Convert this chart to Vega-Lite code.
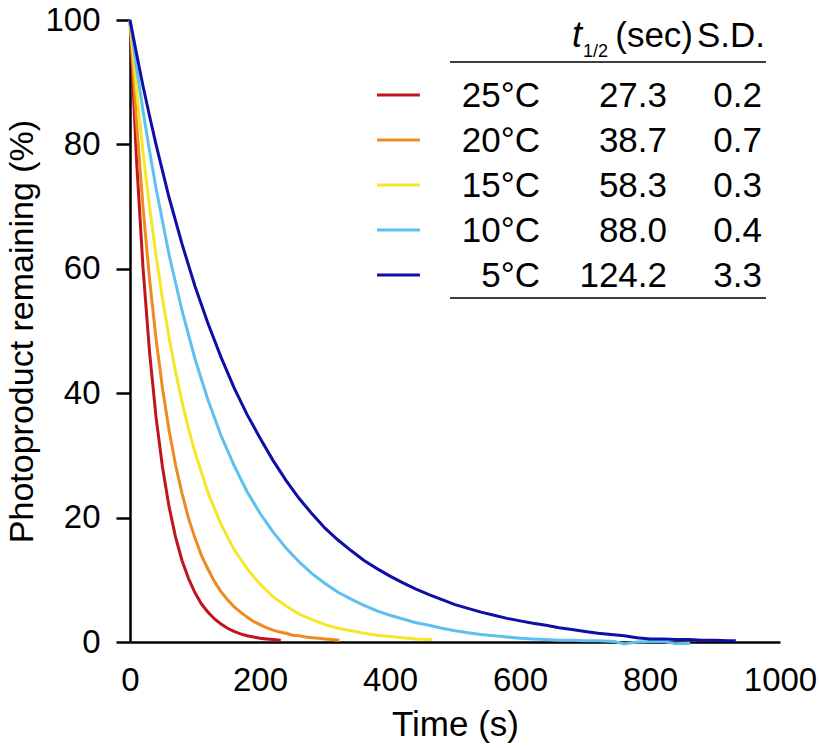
{
  "$schema": "https://vega.github.io/schema/vega-lite/v6.json",
  "width": 650,
  "height": 622,
  "autosize": {"type": "none"},
  "padding": {"left": 130, "top": 20, "right": 40, "bottom": 106},
  "background": "white",
  "config": {
    "view": {"stroke": null},
    "font": "Liberation Sans",
    "text": {"font": "Liberation Sans", "baseline": "alphabetic"},
    "axis": {"labelFont": "Liberation Sans", "titleFont": "Liberation Sans", "grid": false, "domainColor": "black", "tickColor": "black", "labelColor": "black", "titleColor": "black", "titleFontWeight": "normal", "zindex": 1}
  },
  "datasets": {
    "table": [
      {"temp": "25°C", "row": 1, "t_half": "27.3", "sd": "0.2"},
      {"temp": "20°C", "row": 2, "t_half": "38.7", "sd": "0.7"},
      {"temp": "15°C", "row": 3, "t_half": "58.3", "sd": "0.3"},
      {"temp": "10°C", "row": 4, "t_half": "88.0", "sd": "0.4"},
      {"temp": "5°C", "row": 5, "t_half": "124.2", "sd": "3.3"}
    ],
    "curves": [
      {"temp":"25°C","time":0,"remaining":100},{"temp":"25°C","time":10,"remaining":77.6},{"temp":"25°C","time":20,"remaining":60.2},{"temp":"25°C","time":30,"remaining":46.7},{"temp":"25°C","time":40,"remaining":36.2},{"temp":"25°C","time":50,"remaining":28.1},{"temp":"25°C","time":60,"remaining":21.8},{"temp":"25°C","time":70,"remaining":16.9},{"temp":"25°C","time":80,"remaining":13.1},{"temp":"25°C","time":90,"remaining":10.2},{"temp":"25°C","time":100,"remaining":7.9},{"temp":"25°C","time":110,"remaining":6.1},{"temp":"25°C","time":120,"remaining":4.8},{"temp":"25°C","time":130,"remaining":3.7},{"temp":"25°C","time":140,"remaining":2.9},{"temp":"25°C","time":150,"remaining":2.2},{"temp":"25°C","time":160,"remaining":1.7},{"temp":"25°C","time":170,"remaining":1.3},{"temp":"25°C","time":180,"remaining":1.0},{"temp":"25°C","time":190,"remaining":0.8},{"temp":"25°C","time":200,"remaining":0.6},{"temp":"25°C","time":210,"remaining":0.5},{"temp":"25°C","time":220,"remaining":0.4},{"temp":"25°C","time":232,"remaining":0.3},
      {"temp":"20°C","time":0,"remaining":100},{"temp":"20°C","time":10,"remaining":83.6},{"temp":"20°C","time":20,"remaining":69.9},{"temp":"20°C","time":30,"remaining":58.4},{"temp":"20°C","time":40,"remaining":48.8},{"temp":"20°C","time":50,"remaining":40.8},{"temp":"20°C","time":60,"remaining":34.1},{"temp":"20°C","time":70,"remaining":28.5},{"temp":"20°C","time":80,"remaining":23.9},{"temp":"20°C","time":90,"remaining":19.9},{"temp":"20°C","time":100,"remaining":16.7},{"temp":"20°C","time":110,"remaining":13.9},{"temp":"20°C","time":120,"remaining":11.7},{"temp":"20°C","time":130,"remaining":9.7},{"temp":"20°C","time":140,"remaining":8.1},{"temp":"20°C","time":150,"remaining":6.8},{"temp":"20°C","time":160,"remaining":5.7},{"temp":"20°C","time":170,"remaining":4.8},{"temp":"20°C","time":180,"remaining":4.0},{"temp":"20°C","time":190,"remaining":3.3},{"temp":"20°C","time":200,"remaining":2.8},{"temp":"20°C","time":210,"remaining":2.3},{"temp":"20°C","time":220,"remaining":1.9},{"temp":"20°C","time":230,"remaining":1.6},{"temp":"20°C","time":240,"remaining":1.4},{"temp":"20°C","time":250,"remaining":1.1},{"temp":"20°C","time":260,"remaining":1.0},{"temp":"20°C","time":270,"remaining":0.8},{"temp":"20°C","time":280,"remaining":0.7},{"temp":"20°C","time":290,"remaining":0.6},{"temp":"20°C","time":300,"remaining":0.5},{"temp":"20°C","time":310,"remaining":0.4},{"temp":"20°C","time":322,"remaining":0.3},
      {"temp":"15°C","time":0,"remaining":100},{"temp":"15°C","time":10,"remaining":88.8},{"temp":"15°C","time":20,"remaining":78.8},{"temp":"15°C","time":30,"remaining":70.0},{"temp":"15°C","time":40,"remaining":62.2},{"temp":"15°C","time":50,"remaining":55.2},{"temp":"15°C","time":60,"remaining":49.0},{"temp":"15°C","time":70,"remaining":43.5},{"temp":"15°C","time":80,"remaining":38.6},{"temp":"15°C","time":90,"remaining":34.3},{"temp":"15°C","time":100,"remaining":30.5},{"temp":"15°C","time":120,"remaining":24.0},{"temp":"15°C","time":140,"remaining":18.9},{"temp":"15°C","time":160,"remaining":14.9},{"temp":"15°C","time":180,"remaining":11.8},{"temp":"15°C","time":200,"remaining":9.3},{"temp":"15°C","time":220,"remaining":7.3},{"temp":"15°C","time":240,"remaining":5.8},{"temp":"15°C","time":260,"remaining":4.5},{"temp":"15°C","time":280,"remaining":3.6},{"temp":"15°C","time":300,"remaining":2.8},{"temp":"15°C","time":320,"remaining":2.2},{"temp":"15°C","time":340,"remaining":1.8},{"temp":"15°C","time":360,"remaining":1.4},{"temp":"15°C","time":380,"remaining":1.1},{"temp":"15°C","time":400,"remaining":0.9},{"temp":"15°C","time":420,"remaining":0.7},{"temp":"15°C","time":440,"remaining":0.5},{"temp":"15°C","time":465,"remaining":0.4},
      {"temp":"10°C","time":0,"remaining":100},{"temp":"10°C","time":10,"remaining":92.4},{"temp":"10°C","time":20,"remaining":85.4},{"temp":"10°C","time":30,"remaining":79.0},{"temp":"10°C","time":40,"remaining":73.0},{"temp":"10°C","time":60,"remaining":62.3},{"temp":"10°C","time":80,"remaining":53.3},{"temp":"10°C","time":100,"remaining":45.5},{"temp":"10°C","time":120,"remaining":38.9},{"temp":"10°C","time":140,"remaining":33.2},{"temp":"10°C","time":160,"remaining":28.4},{"temp":"10°C","time":180,"remaining":24.2},{"temp":"10°C","time":200,"remaining":20.7},{"temp":"10°C","time":220,"remaining":17.7},{"temp":"10°C","time":240,"remaining":15.1},{"temp":"10°C","time":260,"remaining":12.9},{"temp":"10°C","time":280,"remaining":11.0},{"temp":"10°C","time":300,"remaining":9.4},{"temp":"10°C","time":320,"remaining":8.0},{"temp":"10°C","time":340,"remaining":6.9},{"temp":"10°C","time":360,"remaining":5.9},{"temp":"10°C","time":380,"remaining":5.0},{"temp":"10°C","time":400,"remaining":4.3},{"temp":"10°C","time":420,"remaining":3.7},{"temp":"10°C","time":440,"remaining":3.1},{"temp":"10°C","time":460,"remaining":2.7},{"temp":"10°C","time":480,"remaining":2.2},{"temp":"10°C","time":500,"remaining":1.8},{"temp":"10°C","time":520,"remaining":1.5},{"temp":"10°C","time":540,"remaining":1.2},{"temp":"10°C","time":560,"remaining":1.0},{"temp":"10°C","time":580,"remaining":0.8},{"temp":"10°C","time":600,"remaining":0.6},{"temp":"10°C","time":620,"remaining":0.5},{"temp":"10°C","time":640,"remaining":0.4},{"temp":"10°C","time":660,"remaining":0.3},{"temp":"10°C","time":680,"remaining":0.3},{"temp":"10°C","time":700,"remaining":0.2},{"temp":"10°C","time":720,"remaining":0.2},{"temp":"10°C","time":745,"remaining":0.1},{"temp":"10°C","time":760,"remaining":-0.3},{"temp":"10°C","time":780,"remaining":0.0},{"temp":"10°C","time":800,"remaining":0.1},{"temp":"10°C","time":820,"remaining":0.1},{"temp":"10°C","time":840,"remaining":-0.3},{"temp":"10°C","time":862,"remaining":-0.2},
      {"temp":"5°C","time":0,"remaining":100},{"temp":"5°C","time":10,"remaining":94.6},{"temp":"5°C","time":20,"remaining":89.4},{"temp":"5°C","time":30,"remaining":84.6},{"temp":"5°C","time":40,"remaining":80.0},{"temp":"5°C","time":60,"remaining":71.5},{"temp":"5°C","time":80,"remaining":64.0},{"temp":"5°C","time":100,"remaining":57.2},{"temp":"5°C","time":120,"remaining":51.2},{"temp":"5°C","time":140,"remaining":45.8},{"temp":"5°C","time":160,"remaining":40.9},{"temp":"5°C","time":180,"remaining":36.6},{"temp":"5°C","time":200,"remaining":32.8},{"temp":"5°C","time":220,"remaining":29.2},{"temp":"5°C","time":240,"remaining":26.0},{"temp":"5°C","time":260,"remaining":23.1},{"temp":"5°C","time":280,"remaining":20.6},{"temp":"5°C","time":300,"remaining":18.3},{"temp":"5°C","time":320,"remaining":16.4},{"temp":"5°C","time":340,"remaining":14.7},{"temp":"5°C","time":360,"remaining":13.1},{"temp":"5°C","time":380,"remaining":11.8},{"temp":"5°C","time":400,"remaining":10.6},{"temp":"5°C","time":420,"remaining":9.5},{"temp":"5°C","time":440,"remaining":8.5},{"temp":"5°C","time":460,"remaining":7.6},{"temp":"5°C","time":480,"remaining":6.8},{"temp":"5°C","time":500,"remaining":6.0},{"temp":"5°C","time":520,"remaining":5.4},{"temp":"5°C","time":540,"remaining":4.8},{"temp":"5°C","time":560,"remaining":4.3},{"temp":"5°C","time":580,"remaining":3.8},{"temp":"5°C","time":600,"remaining":3.4},{"temp":"5°C","time":620,"remaining":3.0},{"temp":"5°C","time":640,"remaining":2.7},{"temp":"5°C","time":660,"remaining":2.3},{"temp":"5°C","time":680,"remaining":2.0},{"temp":"5°C","time":700,"remaining":1.7},{"temp":"5°C","time":720,"remaining":1.4},{"temp":"5°C","time":740,"remaining":1.2},{"temp":"5°C","time":760,"remaining":1.0},{"temp":"5°C","time":780,"remaining":0.7},{"temp":"5°C","time":800,"remaining":0.5},{"temp":"5°C","time":820,"remaining":0.5},{"temp":"5°C","time":840,"remaining":0.4},{"temp":"5°C","time":860,"remaining":0.4},{"temp":"5°C","time":880,"remaining":0.3},{"temp":"5°C","time":900,"remaining":0.3},{"temp":"5°C","time":920,"remaining":0.2},{"temp":"5°C","time":932,"remaining":0.2}
    ]
  },
  "resolve": {"scale": {"y": "independent"}},
  "layer": [
    {
      "data": {"name": "curves"},
      "mark": {"type": "line", "strokeWidth": 3, "interpolate": "linear"},
      "encoding": {
        "x": {"field": "time", "type": "quantitative", "scale": {"domain": [0, 1000], "nice": false, "zero": false},
          "axis": {"title": "Time (s)", "values": [0, 200, 400, 600, 800, 1000], "format": "d", "ticks": false, "tickSize": 0, "domainWidth": 2.5, "labelFontSize": 33, "labelPadding": 22, "titleFontSize": 35, "titlePadding": 10, "labelFlush": false, "labelOverlap": false}},
        "y": {"field": "remaining", "type": "quantitative", "scale": {"domain": [0, 100], "nice": false, "zero": false},
          "axis": {"title": "Photoproduct remaining (%)", "values": [0, 20, 40, 60, 80, 100], "tickSize": 14, "tickWidth": 2.5, "domainWidth": 2.5, "labelFontSize": 33, "labelPadding": 16, "titleFontSize": 34, "titlePadding": 5, "labelFlush": false, "labelOverlap": false}},
        "color": {"field": "temp", "type": "nominal", "sort": ["25°C", "20°C", "15°C", "10°C", "5°C"],
          "scale": {"domain": ["25°C", "20°C", "15°C", "10°C", "5°C"], "range": ["#c0151e", "#ee8a22", "#f5e62a", "#5ec0ee", "#0f0fa5"]}, "legend": null}
      }
    },
    {
      "data": {"name": "table"},
      "mark": {"type": "rule", "strokeWidth": 3, "yOffset": -12},
      "encoding": {
        "x": {"datum": 380, "type": "quantitative"},
        "x2": {"datum": 446},
        "y": {"field": "row", "type": "quantitative", "scale": {"domain": [-0.933, 12.889], "reverse": true, "nice": false, "zero": false}, "axis": null},
        "color": {"field": "temp", "type": "nominal", "legend": null}
      }
    },
    {
      "data": {"name": "table"},
      "mark": {"type": "text", "align": "right", "baseline": "alphabetic", "fontSize": 35, "color": "black"},
      "encoding": {
        "x": {"datum": 630.8, "type": "quantitative"},
        "y": {"field": "row", "type": "quantitative", "scale": {"domain": [-0.933, 12.889], "reverse": true, "nice": false, "zero": false}, "axis": null},
        "text": {"field": "temp"}
      }
    },
    {
      "data": {"name": "table"},
      "mark": {"type": "text", "align": "right", "baseline": "alphabetic", "fontSize": 35, "color": "black"},
      "encoding": {
        "x": {"datum": 826.2, "type": "quantitative"},
        "y": {"field": "row", "type": "quantitative", "scale": {"domain": [-0.933, 12.889], "reverse": true, "nice": false, "zero": false}, "axis": null},
        "text": {"field": "t_half"}
      }
    },
    {
      "data": {"name": "table"},
      "mark": {"type": "text", "align": "right", "baseline": "alphabetic", "fontSize": 35, "color": "black"},
      "encoding": {
        "x": {"datum": 972.3, "type": "quantitative"},
        "y": {"field": "row", "type": "quantitative", "scale": {"domain": [-0.933, 12.889], "reverse": true, "nice": false, "zero": false}, "axis": null},
        "text": {"field": "sd"}
      }
    },
    {
      "data": {"values": [{}]},
      "mark": {"type": "text", "align": "left", "baseline": "alphabetic", "fontSize": 36, "fontStyle": "italic", "color": "black"},
      "encoding": {
        "x": {"datum": 680, "type": "quantitative"},
        "y": {"datum": -0.333, "type": "quantitative", "scale": {"domain": [-0.933, 12.889], "reverse": true, "nice": false, "zero": false}, "axis": null},
        "text": {"value": "t"}
      }
    },
    {
      "data": {"values": [{}]},
      "mark": {"type": "text", "align": "left", "baseline": "alphabetic", "fontSize": 18, "color": "black"},
      "encoding": {
        "x": {"datum": 697, "type": "quantitative"},
        "y": {"datum": -0.111, "type": "quantitative", "scale": {"domain": [-0.933, 12.889], "reverse": true, "nice": false, "zero": false}, "axis": null},
        "text": {"value": "1/2"}
      }
    },
    {
      "data": {"values": [{}]},
      "mark": {"type": "text", "align": "right", "baseline": "alphabetic", "fontSize": 35, "color": "black"},
      "encoding": {
        "x": {"datum": 866.2, "type": "quantitative"},
        "y": {"datum": -0.333, "type": "quantitative", "scale": {"domain": [-0.933, 12.889], "reverse": true, "nice": false, "zero": false}, "axis": null},
        "text": {"value": "(sec)"}
      }
    },
    {
      "data": {"values": [{}]},
      "mark": {"type": "text", "align": "right", "baseline": "alphabetic", "fontSize": 35, "color": "black"},
      "encoding": {
        "x": {"datum": 977, "type": "quantitative"},
        "y": {"datum": -0.333, "type": "quantitative", "scale": {"domain": [-0.933, 12.889], "reverse": true, "nice": false, "zero": false}, "axis": null},
        "text": {"value": "S.D."}
      }
    },
    {
      "data": {"values": [{}]},
      "mark": {"type": "rule", "strokeWidth": 1.5, "color": "black"},
      "encoding": {
        "x": {"datum": 492.3, "type": "quantitative"},
        "x2": {"datum": 978.5},
        "y": {"datum": 0, "type": "quantitative", "scale": {"domain": [-0.933, 12.889], "reverse": true, "nice": false, "zero": false}, "axis": null}
      }
    },
    {
      "data": {"values": [{}]},
      "mark": {"type": "rule", "strokeWidth": 1.5, "color": "black"},
      "encoding": {
        "x": {"datum": 492.3, "type": "quantitative"},
        "x2": {"datum": 978.5},
        "y": {"datum": 5.244, "type": "quantitative", "scale": {"domain": [-0.933, 12.889], "reverse": true, "nice": false, "zero": false}, "axis": null}
      }
    }
  ]
}
